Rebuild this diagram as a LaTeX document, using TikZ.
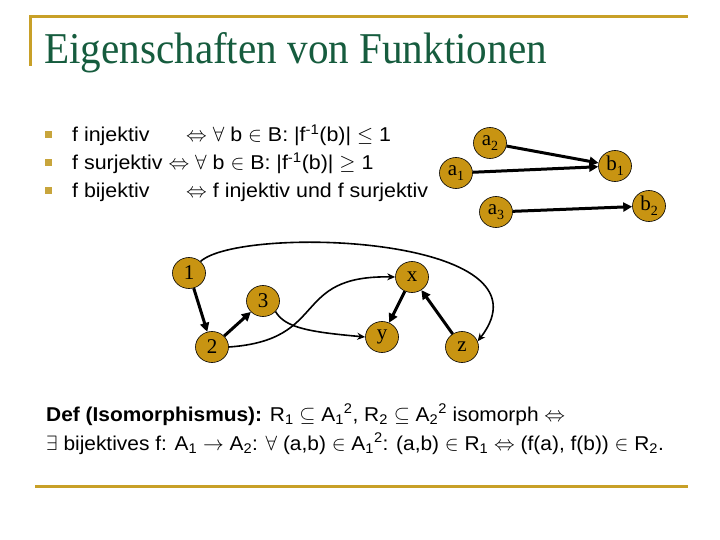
\documentclass[tikz,border=0pt]{standalone}
\usepackage{fontspec}
\setmainfont{Liberation Serif}
\newfontfamily\titlefont[FakeStretch=0.935]{Liberation Serif}
\newfontfamily\bodyfont[FakeStretch=1.07]{Liberation Sans}
\newfontfamily\deffont[FakeStretch=1.045]{Liberation Sans}
\usetikzlibrary{arrows.meta,shapes.geometric}
\definecolor{gold}{RGB}{200,148,18}
\definecolor{linegold}{RGB}{200,160,40}
\definecolor{bulletgold}{RGB}{200,165,60}
\definecolor{titlegreen}{RGB}{22,92,62}
\newcommand{\sbs}[1]{\textsubscript{#1}}
\newcommand{\sps}[1]{\textsuperscript{#1}}
\newcommand{\lbl}[2]{#1{\fontsize{14}{14}\selectfont\raisebox{-5pt}{#2}}}
\begin{document}
\begin{tikzpicture}[x=1pt,y=-1pt,
  vtx/.style={ellipse,fill=gold,draw=black,line width=0.6pt,minimum width=33pt,minimum height=31pt,inner sep=0pt,font=\fontsize{21}{21}\selectfont},
  thickarr/.style={line width=3pt,-{Triangle[length=9pt,width=9pt]}},
  thinarr/.style={line width=1.6pt,-{Stealth[length=8pt,width=7pt]}},
  body/.style={anchor=base west,inner sep=0pt,font=\bodyfont\fontsize{20}{24}\selectfont},
  defl/.style={anchor=base west,inner sep=0pt,font=\deffont\fontsize{20}{24}\selectfont},
  bul/.style={fill=bulletgold,minimum size=7pt,inner sep=0pt}]
\useasboundingbox (0,0) rectangle (720,540);
\fill[white] (0,0) rectangle (720,540);
% frame lines
\draw[linegold,line width=3pt] (30,66) -- (30,17) -- (688,17);
\draw[linegold,line width=3pt] (35,486) -- (688,486);
% title
\node[anchor=base west,inner sep=0pt,text=titlegreen,font=\titlefont\fontsize{44}{44}\selectfont] (title) at (44,64) {Eigenschaften von Funktionen};
% bullets
\node[bul] (b1m) at (48.5,135) {};
\node[bul] (b2m) at (48.5,163) {};
\node[bul] (b3m) at (48.5,191) {};
\node[body] (r1a) at (72,142) {f injektiv};
\node[body] (r1b) at (186,142) {$\Leftrightarrow$ $\forall$ b $\in$ B: |f\sps{-1}(b)| $\leq$ 1};
\node[body] (r2) at (72,170) {f surjektiv $\Leftrightarrow$ $\forall$ b $\in$ B: |f\sps{-1}(b)| $\geq$ 1};
\node[body] (r3a) at (72,198) {f bijektiv};
\node[body] (r3b) at (186,198) {$\Leftrightarrow$ f injektiv und f surjektiv};
% definition
\node[defl] (d1) at (46,421) {\textbf{Def (Isomorphismus):} R\sbs{1} $\subseteq$ A\sbs{1}\sps{2}, R\sbs{2} $\subseteq$ A\sbs{2}\sps{2} isomorph $\Leftrightarrow$};
\node[defl] (d2) at (46,450) {$\exists$ bijektives f: A\sbs{1} $\rightarrow$ A\sbs{2}: $\forall$ (a,b) $\in$ A\sbs{1}\sps{2}: (a,b) $\in$ R\sbs{1} $\Leftrightarrow$ (f(a), f(b)) $\in$ R\sbs{2}.};
% right graph
\node[vtx] (a2) at (490,143) {\lbl{a}{2}};
\node[vtx] (a1) at (456,173) {\lbl{a}{1}};
\node[vtx] (a3) at (496,212) {\lbl{a}{3}};
\node[vtx] (bb1) at (615,166) {\lbl{b}{1}};
\node[vtx] (bb2) at (649,206) {\lbl{b}{2}};
\draw[thickarr] (a2) -- (bb1);
\draw[thickarr] (a1) -- (bb1);
\draw[thickarr] (a3) -- (bb2);
% lower graph
\node[vtx] (n1) at (189,273) {1};
\node[vtx] (n3) at (263,301) {3};
\node[vtx] (n2) at (212,347) {2};
\node[vtx] (nx) at (412,277) {x};
\node[vtx] (ny) at (382,337) {y};
\node[vtx] (nz) at (462,347) {z};
\draw[thickarr] (n1) -- (n2);
\draw[thickarr] (n2) -- (n3);
\draw[thickarr] (nx) -- (ny);
\draw[thickarr] (nz) -- (nx);
\draw[thinarr] (n3.-40) .. controls (285,328) and (310,332) .. (ny.west);
\draw[thinarr] (n2.east) .. controls (330,340) and (290,275) .. (nx.west);
\draw[thinarr] (n1.45) .. controls (240,225) and (560,235) .. (nz.20);
\end{tikzpicture}
\end{document}
